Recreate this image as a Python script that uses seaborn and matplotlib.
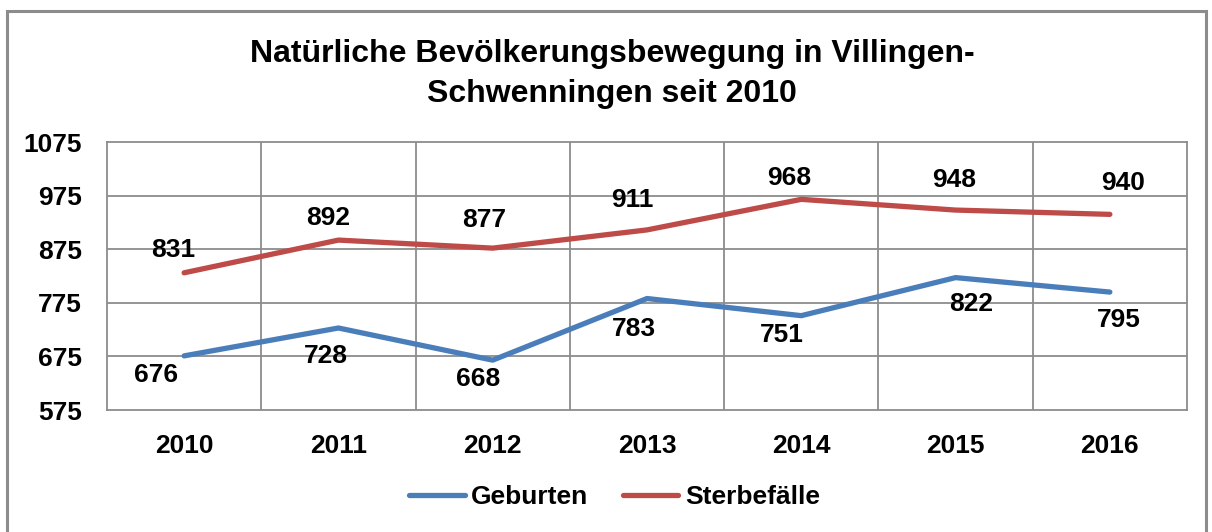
import matplotlib
matplotlib.use("Agg")
import matplotlib.pyplot as plt
import seaborn as sns
import pandas as pd
from matplotlib.patches import Rectangle

# data
years = ["2010", "2011", "2012", "2013", "2014", "2015", "2016"]
geburten = [676, 728, 668, 783, 751, 822, 795]
sterbefaelle = [831, 892, 877, 911, 968, 948, 940]
y_ticks = [575, 675, 775, 875, 975, 1075]

# label offsets in pixels (dx, dy), Excel places them a bit unevenly
off_geb = [(-28, -19), (-13, -28), (-15, -19), (-13, -30), (-19, -19), (16, -26), (9, -28)]
off_ster = [(-11, 23), (-10, 22), (-9, 28), (-15, 30), (-12, 21), (-1, 30), (13, 31)]

blue = "#4A7EBB"
red = "#BE4B48"
grid = "#8C8C8C"

df = pd.DataFrame({"Jahr": years * 2,
                   "Wert": geburten + sterbefaelle,
                   "Reihe": ["Geburten"] * 7 + ["Sterbefälle"] * 7})

sns.set_style("white")
plt.rcParams["font.family"] = ["Liberation Sans", "DejaVu Sans"]
plt.rcParams["text.color"] = "black"
plt.rcParams["xtick.color"] = "black"
plt.rcParams["ytick.color"] = "black"

fig = plt.figure(figsize=(12.12, 5.32), dpi=100)
ax = fig.add_axes([107 / 1212, 1 - 410 / 532, 1080 / 1212, 268 / 532])

sns.lineplot(data=df, x="Jahr", y="Wert", hue="Reihe", palette=[blue, red],
             linewidth=3.8, ax=ax, legend=False, sort=False)
for l in ax.lines:
    l.set_solid_capstyle("round")

ax.set_xlim(-0.5, 6.5)
ax.set_ylim(575, 1075)
ax.set_yticks(y_ticks)
ax.set_xticks(range(len(years)))
ax.set_xticklabels(years)
ax.set_xlabel("")
ax.set_ylabel("")
ax.tick_params(axis="both", length=0, labelsize=19, labelcolor="black")
ax.tick_params(axis="x", pad=17)
ax.tick_params(axis="y", pad=18)
for t in ax.get_xticklabels() + ax.get_yticklabels():
    t.set_fontweight("bold")

# category gridlines sit between the years
for x in [i + 0.5 for i in range(len(years) - 1)]:
    ax.axvline(x, color=grid, lw=1.3, zorder=0)
for y in y_ticks[1:-1]:
    ax.axhline(y, color=grid, lw=1.3, zorder=0)
for s in ax.spines.values():
    s.set_color(grid)
    s.set_linewidth(1.3)
ax.spines["top"].set_visible(True)
ax.spines["right"].set_visible(True)

for i, v in enumerate(geburten):
    ax.annotate(str(v), (i, v), xytext=off_geb[i], textcoords="offset pixels",
                ha="center", va="center", fontsize=19, fontweight="bold")
for i, v in enumerate(sterbefaelle):
    ax.annotate(str(v), (i, v), xytext=off_ster[i], textcoords="offset pixels",
                ha="center", va="center", fontsize=19, fontweight="bold")

fig.text(0.505, 1 - 74 / 532,
         "Natürliche Bevölkerungsbewegung in Villingen-\nSchwenningen seit 2010",
         ha="center", va="center", fontsize=23, fontweight="bold", linespacing=1.4)

# legend
handles = [plt.Line2D([], [], color=blue, lw=3.8, solid_capstyle="round"),
           plt.Line2D([], [], color=red, lw=3.8, solid_capstyle="round")]
fig.legend(handles, ["Geburten", "Sterbefälle"], loc="center",
           bbox_to_anchor=(0.507, 1 - 497 / 532), ncol=2, frameon=False,
           prop={"size": 19, "weight": "bold"}, handlelength=2.1,
           handletextpad=0.25, columnspacing=1.3)

# chart area border
fig.patches.append(Rectangle((7 / 1212, -0.1), 1199 / 1212, 1.1 - 11 / 532,
                             transform=fig.transFigure, fill=False,
                             edgecolor=grid, lw=2.2))

fig.savefig("out.png", dpi=100)
